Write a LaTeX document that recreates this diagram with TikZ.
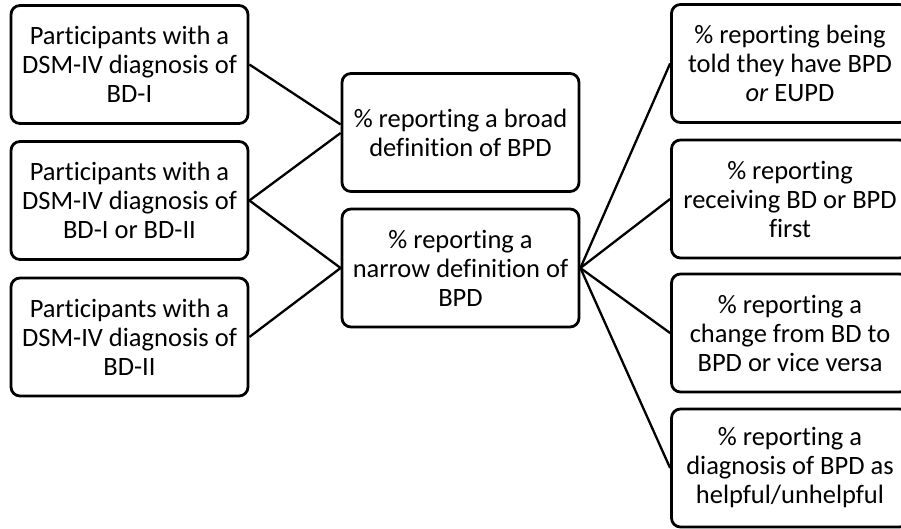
\documentclass[tikz,border=0pt]{standalone}
\usepackage{fontspec}
\setmainfont{Carlito}[Ligatures=NoCommon]
\usetikzlibrary{calc}
\begin{document}
\begin{tikzpicture}[x=1pt,y=-1pt,
  box/.style={draw=black, line width=2.8pt, rounded corners=9pt, minimum width=237pt, minimum height=118pt, align=center, inner sep=0pt, font=\fontsize{26.5}{29}\selectfont},
  conn/.style={draw=black, line width=2.3pt}]
\useasboundingbox (0,0) rectangle (901,528);
\begin{scope}
\clip (0,0) rectangle (901,528);
\node[box] (l1) at (129.5,64.5) {Participants with a\\DSM-IV diagnosis of\\BD-I};
\node[box] (l2) at (129.5,200.5) {Participants with a\\DSM-IV diagnosis of\\BD-I or BD-II};
\node[box] (l3) at (129.5,337) {Participants with a\\DSM-IV diagnosis of\\BD-II};
\node[box] (broad) at (460.5,132.5) {\% reporting a broad\\definition of BPD};
\node[box] (narrow) at (460.5,268) {\% reporting a\\narrow definition of\\BPD};
\node[box] (r1) at (790,63.5) {\% reporting being\\told they have BPD\\\textit{or} EUPD};
\node[box] (r2) at (790,199) {\% reporting\\receiving BD or BPD\\first};
\node[box] (r3) at (790,333) {\% reporting a\\change from BD to\\BPD or vice versa};
\node[box] (r4) at (790,468) {\% reporting a\\diagnosis of BPD as\\helpful/unhelpful};
\coordinate (b1) at ($(broad.west)+(0,-8)$);
\coordinate (b2) at ($(broad.west)+(0,0.5)$);
\draw[conn] (l1.east) -- (b1);
\draw[conn] (l2.east) -- (b2);
\draw[conn] (l2.east) -- (narrow.west);
\draw[conn] (l3.east) -- (narrow.west);
\draw[conn] (narrow.east) -- (r1.west);
\draw[conn] (narrow.east) -- (r2.west);
\draw[conn] (narrow.east) -- (r3.west);
\draw[conn] (narrow.east) -- (r4.west);
\end{scope}
\end{tikzpicture}
\end{document}
